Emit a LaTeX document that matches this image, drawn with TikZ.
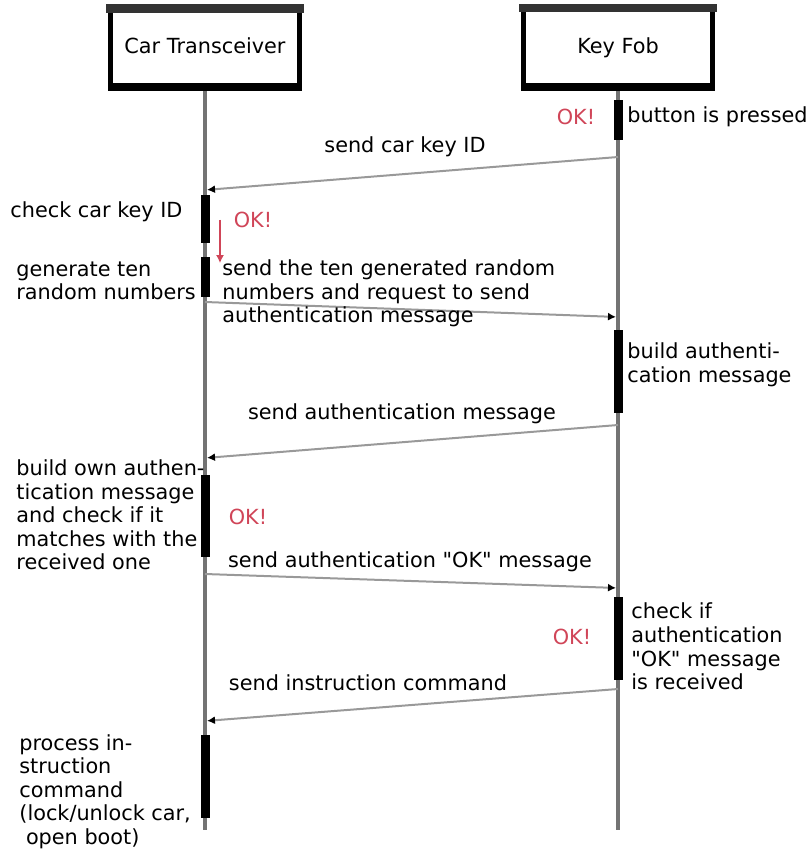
\documentclass[tikz,border=0pt]{standalone}
\usepackage{fontspec}
\setmainfont{DejaVu Sans}
\usetikzlibrary{positioning, arrows.meta}
\definecolor{okred}{HTML}{D04558}

\begin{document}
\begin{tikzpicture}[
		x=0.5pt, y=-0.5pt,
		font=\fontsize{10.4}{11.8}\selectfont,
		actor/.style={draw, line width=2.5pt, fill=white, minimum width=94.5pt, minimum height=38pt, inner sep=0pt},
		activity/.style={fill=black, inner sep=0pt, minimum width=4.5pt},
		lifeline/.style={draw=black!55, line width=2pt, shorten <=1.5pt},
		msg/.style={-{Latex[length=4pt, width=4pt, color=black]}, draw=black!40, line width=1pt, shorten >=1pt},
		ok/.style={text=okred, inner sep=0pt},
		note/.style={align=left, anchor=west, inner sep=0pt},
		lbl/.style={inner sep=0pt}
		]
		\useasboundingbox (0,0) rectangle (811,850);

		% Actors and lifelines
		\node[actor] (car) at (205,47.5) {\raisebox{2pt}{Car Transceiver}};
		\node[actor, right=109.5pt of car] (fob) {\raisebox{2pt}{Key Fob}};
		\fill[black!80] ([xshift=-1pt,yshift=1.25pt]car.north west) rectangle ([xshift=1pt,yshift=-3.25pt]car.north east);
		\fill[black!80] ([xshift=-1pt,yshift=1.25pt]fob.north west) rectangle ([xshift=1pt,yshift=-2.75pt]fob.north east);
		\draw[line width=3.5pt] (car.south west) -- (car.south east);
		\draw[line width=3.5pt] (fob.south west) -- (fob.south east);

		\coordinate (carend) at (car.south |- 0,830);
		\coordinate (fobend) at (fob.south |- 0,830);
		\draw[lifeline] (car.south) -- (carend);
		\draw[lifeline] (fob.south) -- (fobend);

		% Activations
		\node[activity, minimum height=20pt] (fobact1) at (fob.south |- 0,120) {};
		\node[activity, minimum height=24pt] (caract1) at (car.south |- 0,219) {};
		\node[activity, minimum height=20pt] (caract2) at (car.south |- 0,277) {};
		\node[activity, minimum height=41.5pt] (fobact2) at (fob.south |- 0,371.5) {};
		\node[activity, minimum height=41pt] (caract3) at (car.south |- 0,516) {};
		\node[activity, minimum height=41.5pt] (fobact3) at (fob.south |- 0,638.5) {};
		\node[activity, minimum height=41.5pt] (caract4) at (car.south |- 0,776.5) {};

		% Message end points
		\coordinate (fobout1) at (fob.south |- 0,157);
		\coordinate (carin1) at (car.south |- 0,190);
		\coordinate (carout2) at (car.south |- 0,302);
		\coordinate (fobin2) at (fob.south |- 0,317);
		\coordinate (fobout3) at (fob.south |- 0,425);
		\coordinate (carin3) at (car.south |- 0,458);
		\coordinate (carout4) at (car.south |- 0,574);
		\coordinate (fobin4) at (fob.south |- 0,588);
		\coordinate (fobout5) at (fob.south |- 0,689);
		\coordinate (carin5) at (car.south |- 0,721);
		\coordinate (okfrom) at (220,220);
		\coordinate (okto) at (220,263);

		\draw[msg] (fobout1) -- (carin1);
		\draw[msg] (carout2) -- (fobin2);
		\draw[msg] (fobout3) -- (carin3);
		\draw[msg] (carout4) -- (fobin4);
		\draw[msg] (fobout5) -- (carin5);
		\draw[-{Latex[length=4pt, width=4pt]}, draw=okred, fill=okred, line width=0.6pt] (okfrom) -- (okto);

		% Labels
		\node[lbl] (sendid) at (405,147) {send car key ID};
		\node[note] (sendten) at (222,293.5) {send the ten generated random\\numbers and request to send\\authentication message};
		\node[lbl] (sendauth) at (402,414) {send authentication message};
		\node[lbl] (sendok) at (410,562) {send authentication \textquotedbl OK\textquotedbl{} message};
		\node[lbl] (sendinstr) at (368,683) {send instruction command};

		\node[note] (pressed) at (627,117) {button is pressed};
		\node[note] (checkid) at (10,212) {check car key ID};
		\node[note] (genten) at (16,281) {generate ten\\random numbers};
		\node[note] (buildauth) at (627,365) {build authenti-\\cation message};
		\node[note] (buildown) at (16,515) {build own authen-\\tication message\\and check if it\\matches with the\\received one};
		\node[note] (checkok) at (631,646.5) {check if\\authentication\\\textquotedbl OK\textquotedbl{} message\\is received};
		\node[note] (process) at (19,791.5) {process in-\\struction\\command\\(lock/unlock car,\\\hspace*{3.3pt}open boot)};

		\node[ok] (fobok1) at (576,117) {OK!};
		\node[ok] (carok1) at (253,220) {OK!};
		\node[ok] (carok2) at (248,517) {OK!};
		\node[ok] (fobok2) at (572,637) {OK!};

	\end{tikzpicture}
\end{document}
